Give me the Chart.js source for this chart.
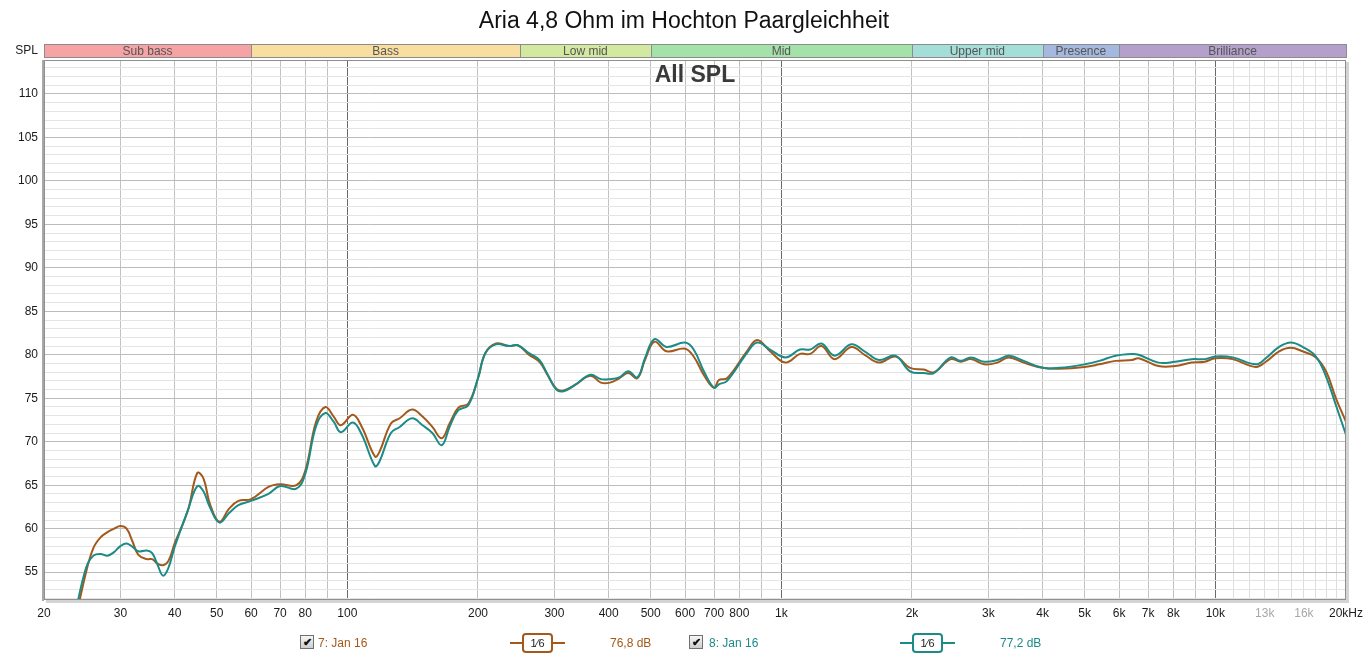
<!DOCTYPE html>
<html>
<head>
<meta charset="utf-8">
<script src="https://cdn.jsdelivr.net/npm/chart.js@4.4.1/dist/chart.umd.min.js"></script>
<style>
  body { margin:0; background:#fff; font-family:"Liberation Sans", Arial, sans-serif; }
  #wrap { position:relative; width:1369px; height:658px; overflow:hidden; }
  #canvas { position:absolute; left:0; top:0; }
  .leg { position:absolute; top:636px; font-size:12px; line-height:14px; white-space:nowrap; }
  .chk { position:absolute; top:635px; width:12px; height:12px; border:1px solid #707070;
         background:linear-gradient(#f6f6f6,#cdcdcd); font-size:11px; line-height:12px;
         text-align:center; color:#111; font-weight:bold; }
  .sline { position:absolute; top:642px; height:2px; width:55px; }
  .sbox { position:absolute; top:633px; width:27px; height:16px; border:2px solid; border-radius:4px;
          background:#fff; font-size:11px; line-height:16px; text-align:center; color:#222; }
</style>
</head>
<body>
<div id="wrap">
  <canvas id="canvas" width="1369" height="658"></canvas>
</div>
<script>
var chartTitle = 'Aria 4,8 Ohm im Hochton Paargleichheit';

// frequency points (Hz) and SPL (dB) of both measurements
var freq = [23.5, 25, 26, 27, 28, 29, 30, 31, 32, 33, 34.5, 35.5, 36.5, 37.6, 38.7, 40,
  42.9, 45.1, 46.6, 48.2, 50.7, 53.4, 56.1, 60, 65.8, 70, 76.3, 80, 84.7, 89, 93, 96.6,
  103, 108, 115.8, 118.5, 126, 132, 141, 149, 157, 165, 172, 180, 190, 200, 208, 220,
  236, 247, 262, 277, 289, 303, 315, 334, 363, 384, 403, 423, 444, 466, 485, 510, 544,
  600, 628, 666, 700, 718, 750, 833, 880, 942, 1022, 1104, 1165, 1237, 1327, 1450, 1555,
  1680, 1830, 1980, 2128, 2247, 2455, 2591, 2734, 2932, 3145, 3343, 3618, 4000, 4374,
  5000, 5403, 5891, 6428, 6660, 7395, 8076, 8816, 9452, 10000, 10960, 12400, 13070,
  14030, 14930, 15880, 17050, 17990, 18960, 20000];

var spl7 = [49.0, 55.0, 57.8, 59.0, 59.6, 60.0, 60.3, 60.0, 58.5, 57.0, 56.5, 56.5, 56.0, 55.8, 56.3, 58.3,
  62.1, 66.4, 65.8, 62.9, 60.8, 62.3, 63.2, 63.4, 64.8, 65.1, 65.0, 66.7, 72.3, 74.0, 72.9, 71.9,
  73.1, 71.7, 68.3, 68.8, 72.1, 72.7, 73.7, 72.9, 71.7, 70.4, 72.1, 73.9, 74.4, 77.3, 80.2, 81.3,
  81.0, 81.1, 80.0, 79.2, 77.7, 76.1, 75.9, 76.5, 77.6, 76.8, 76.8, 77.3, 77.9, 77.3, 79.4, 81.5, 80.4,
  80.7, 79.8, 77.5, 76.2, 77.1, 77.3, 80.4, 81.7, 80.4, 79.1, 80.1, 80.1, 81.0, 79.5, 80.9, 80.0,
  79.1, 79.8, 78.5, 78.3, 78.0, 79.5, 79.2, 79.5, 78.9, 79.1, 79.7, 79.1, 78.5, 78.4,
  78.6, 78.9, 79.3, 79.4, 79.6, 78.7, 78.7, 79.1, 79.2, 79.6, 79.5, 78.6, 79.2,
  80.4, 80.8, 80.4, 79.7, 78.1, 75.0, 72.3];

var spl8 = [49.8, 55.5, 56.9, 57.1, 56.9, 57.3, 58.0, 58.3, 57.9, 57.4, 57.5, 57.2, 55.9, 54.6, 55.5, 57.9,
  62.1, 64.9, 64.3, 62.5, 60.7, 61.8, 62.7, 63.2, 64.0, 64.9, 64.6, 66.3, 71.8, 73.3, 72.3, 71.1,
  72.2, 70.8, 67.2, 67.7, 71.0, 71.7, 72.7, 71.9, 71.0, 69.6, 71.7, 73.6, 74.2, 77.3, 80.2, 81.2,
  81.0, 81.1, 80.2, 79.4, 77.8, 76.0, 75.8, 76.5, 77.7, 77.2, 77.2, 77.4, 78.1, 77.4, 79.6, 81.8, 80.9,
  81.4, 80.6, 77.9, 76.2, 76.6, 77.0, 80.2, 81.4, 80.6, 79.7, 80.6, 80.6, 81.3, 79.9, 81.2, 80.4,
  79.4, 79.9, 78.1, 77.9, 77.9, 79.7, 79.3, 79.7, 79.2, 79.4, 79.9, 79.3, 78.5, 78.5,
  78.9, 79.3, 79.9, 80.1, 80.0, 79.1, 79.2, 79.5, 79.5, 79.8, 79.7, 78.9, 79.6,
  80.9, 81.4, 80.9, 79.8, 77.5, 74.2, 70.8];

var seriesNames = ['7: Jan 16', '8: Jan 16'];
var seriesLevels = ['76,8 dB', '77,2 dB'];
var seriesColors = ['#A3591C', '#1B8B87'];

// frequency bands on top
var bandNames = ['Sub bass', 'Bass', 'Low mid', 'Mid', 'Upper mid', 'Presence', 'Brilliance'];
var bandEdges = [20, 60, 250, 500, 2000, 4000, 6000, 20000];
var bandColors = ['#F6A3A6', '#F8DFA0', '#D3E9A0', '#A4E2A9', '#A3DED9', '#A5B8DF', '#B4A0CB'];

// x axis grid and labels
var xGrid = [20, 30, 40, 50, 60, 70, 80, 90, 100, 200, 300, 400, 500, 600, 700, 800, 900,
  1000, 2000, 3000, 4000, 5000, 6000, 7000, 8000, 9000, 10000, 11000, 12000, 13000, 14000,
  15000, 16000, 17000, 18000, 19000, 20000];
var xTickValues = [20, 30, 40, 50, 60, 70, 80, 100, 200, 300, 400, 500, 600, 700, 800,
  1000, 2000, 3000, 4000, 5000, 6000, 7000, 8000, 10000, 13000, 16000, 20000];
var xTickLabels = ['20', '30', '40', '50', '60', '70', '80', '100', '200', '300', '400', '500', '600', '700', '800',
  '1k', '2k', '3k', '4k', '5k', '6k', '7k', '8k', '10k', '13k', '16k', '20kHz'];
var xGreyLabels = [13000, 16000];

var yMin = 51.8, yMax = 113.9;

function toPoints(ys) {
  return freq.map(function(f, i) { return {x: f, y: ys[i]}; });
}

var decor = {
  id: 'decor',
  beforeDraw: function(chart) {
    var ctx = chart.ctx;
    var xs = chart.scales.x;
    ctx.save();
    ctx.fillStyle = '#111';
    ctx.font = '23px "Liberation Sans", Arial, sans-serif';
    ctx.textAlign = 'center';
    ctx.textBaseline = 'middle';
    ctx.fillText(chartTitle, 684, 22);

    ctx.font = '12px "Liberation Sans", Arial, sans-serif';
    ctx.textAlign = 'right';
    ctx.fillStyle = '#222';
    ctx.fillText('SPL', 38, 51);

    // band bar
    var top = 44, h = 13;
    for (var i = 0; i < bandNames.length; i++) {
      var x0 = xs.getPixelForValue(bandEdges[i]);
      var x1 = xs.getPixelForValue(bandEdges[i + 1]);
      ctx.fillStyle = bandColors[i];
      ctx.fillRect(x0, top, x1 - x0, h);
      ctx.strokeStyle = '#8c8c8c';
      ctx.lineWidth = 1;
      ctx.strokeRect(Math.round(x0) + 0.5, top + 0.5, Math.round(x1 - x0), h);
      ctx.fillStyle = '#555';
      ctx.textAlign = 'center';
      ctx.font = '12px "Liberation Sans", Arial, sans-serif';
      ctx.fillText(bandNames[i], (x0 + x1) / 2, top + h / 2 + 1);
    }
    ctx.restore();
  },
  afterDatasetsDraw: function(chart) {
    var ctx = chart.ctx;
    var a = chart.chartArea;
    ctx.save();
    // frame with soft shadow
    ctx.fillStyle = '#d4d4d4';
    ctx.fillRect(a.right, a.top + 2, 3, a.bottom - a.top + 1);
    ctx.fillRect(a.left + 2, a.bottom, a.right - a.left + 1, 3);
    ctx.fillStyle = '#a8a8a8';
    ctx.fillRect(a.left - 2, a.top, 2, a.bottom - a.top + 1);
    ctx.strokeStyle = '#8f8f8f';
    ctx.lineWidth = 1;
    ctx.strokeRect(a.left + 0.5, a.top + 0.5, a.right - a.left - 1, a.bottom - a.top - 1);

    ctx.fillStyle = '#3a3a3a';
    ctx.font = 'bold 23px "Liberation Sans", Arial, sans-serif';
    ctx.textAlign = 'center';
    ctx.textBaseline = 'middle';
    ctx.fillText('All SPL', 695, 76);
    ctx.restore();
  }
};

var chart_config = {
  type: 'line',
  data: {
    datasets: [
      {label: seriesNames[0], data: toPoints(spl7), borderColor: seriesColors[0], order: 1},
      {label: seriesNames[1], data: toPoints(spl8), borderColor: seriesColors[1], order: 0}
    ]
  },
  options: {
    responsive: false,
    animation: false,
    layout: {padding: {top: 60, right: 22, bottom: 36, left: 0}},
    elements: {
      point: {radius: 0},
      line: {borderWidth: 2, tension: 0.4, fill: false}
    },
    plugins: {legend: {display: false}, title: {display: false}, tooltip: {enabled: false}},
    scales: {
      x: {
        type: 'logarithmic',
        min: 20, max: 20000,
        afterBuildTicks: function(scale) {
          scale.ticks = xGrid.map(function(v) { return {value: v}; });
        },
        afterFit: function(scale) { scale.height = 22; },
        border: {display: false},
        grid: {
          drawTicks: false,
          color: function(c) {
            var v = c.tick ? c.tick.value : 0;
            if (v === 20 || v === 20000) return 'rgba(0,0,0,0)';
            if (v === 100 || v === 1000 || v === 10000) return '#6a6a6a';
            if (v > 10000) return '#dedede';
            return '#c2c2c2';
          }
        },
        ticks: {
          autoSkip: false, maxRotation: 0, padding: 6,
          font: {family: '"Liberation Sans", Arial, sans-serif', size: 12},
          color: function(c) {
            return xGreyLabels.indexOf(c.tick.value) >= 0 ? '#a8a8a8' : '#1a1a1a';
          },
          callback: function(v) {
            var i = xTickValues.indexOf(v);
            return i >= 0 ? xTickLabels[i] : '';
          }
        }
      },
      y: {
        type: 'linear',
        z: -1,
        min: yMin, max: yMax,
        afterBuildTicks: function(scale) {
          var t = [];
          for (var v = 52; v <= 113; v++) t.push({value: v});
          scale.ticks = t;
        },
        afterFit: function(scale) { scale.width = 44; },
        border: {display: false},
        grid: {
          drawTicks: false,
          color: function(c) {
            var v = c.tick ? c.tick.value : 0;
            return v % 5 === 0 ? '#bcbcbc' : '#e4e4e4';
          }
        },
        ticks: {
          autoSkip: false, padding: 6,
          font: {family: '"Liberation Sans", Arial, sans-serif', size: 12},
          color: '#1a1a1a',
          callback: function(v) { return v % 5 === 0 ? String(v) : ''; }
        }
      }
    }
  },
  plugins: [decor]
};

// legend row below the chart
var legendPos = [
  {chk: 300, name: 318, icon: 510, level: 610},
  {chk: 689, name: 709, icon: 900, level: 1000}
];

function buildLegend() {
  var wrap = document.getElementById('wrap');
  seriesNames.forEach(function(name, i) {
    var p = legendPos[i];
    var col = seriesColors[i];
    var chk = document.createElement('div');
    chk.className = 'chk';
    chk.style.left = p.chk + 'px';
    chk.textContent = '\u2714';
    wrap.appendChild(chk);

    var t = document.createElement('div');
    t.className = 'leg';
    t.style.left = p.name + 'px';
    t.style.color = col;
    t.textContent = name;
    wrap.appendChild(t);

    var ln = document.createElement('div');
    ln.className = 'sline';
    ln.style.left = p.icon + 'px';
    ln.style.background = col;
    wrap.appendChild(ln);

    var bx = document.createElement('div');
    bx.className = 'sbox';
    bx.style.left = (p.icon + 12) + 'px';
    bx.style.borderColor = col;
    bx.textContent = '1\u20446';
    wrap.appendChild(bx);

    var lv = document.createElement('div');
    lv.className = 'leg';
    lv.style.left = p.level + 'px';
    lv.style.color = col;
    lv.textContent = seriesLevels[i];
    wrap.appendChild(lv);
  });
}

window.onload = function() {
  var ctx = document.getElementById('canvas').getContext('2d');
  window.myLine = new Chart(ctx, chart_config);
  buildLegend();
};
</script>
</body>
</html>
